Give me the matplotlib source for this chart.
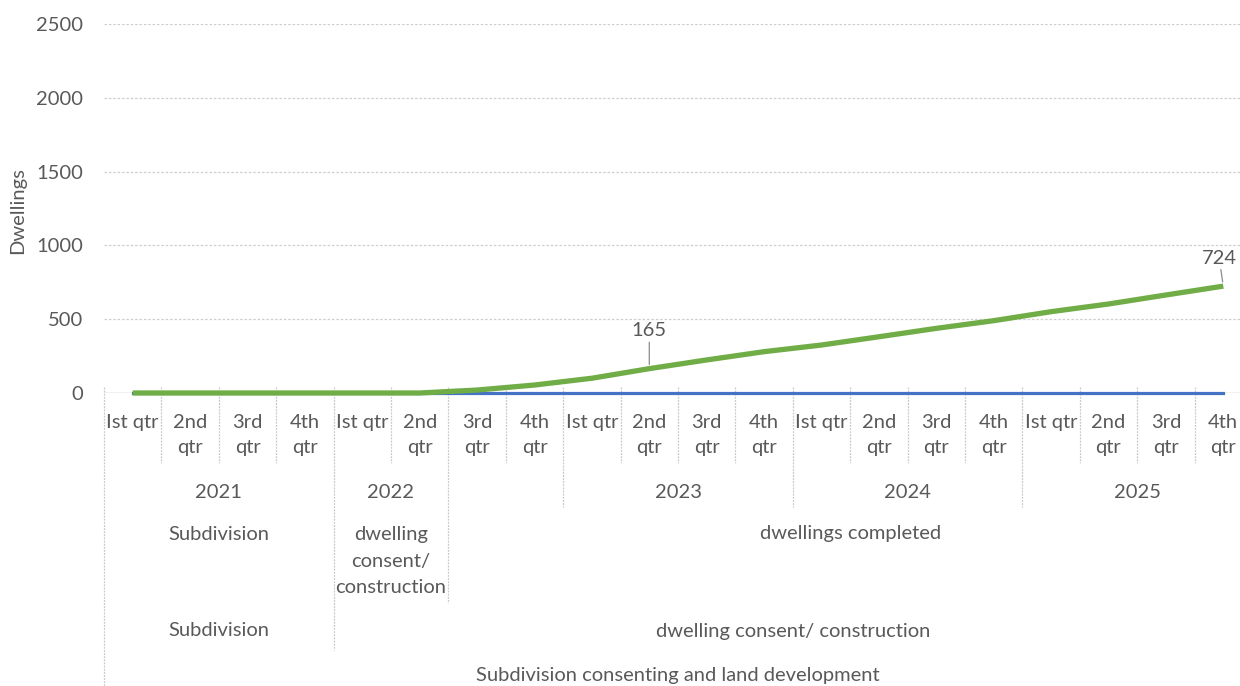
import matplotlib.pyplot as plt
from matplotlib.transforms import blended_transform_factory

# data
quarters = ["Ist qtr", "2nd\nqtr", "3rd\nqtr", "4th\nqtr"] * 5
completed = [0, 0, 0, 0, 0, 0, 20, 54, 100, 165, 224, 280,
             325, 381, 438, 490, 551, 603, 664, 724]
baseline = [0] * 20
years = [("2021", 0, 4), ("2022", 4, 6), ("", 6, 8), ("2023", 8, 12),
         ("2024", 12, 16), ("2025", 16, 20)]
stage_a = [("Subdivision", 0, 4), ("dwelling\nconsent/\nconstruction", 4, 6),
           ("dwellings completed", 6, 20)]
stage_b = [("Subdivision", 0, 4), ("dwelling consent/ construction", 4, 20)]
stage_c = [("Subdivision consenting and land development", 0, 20)]
labelled = [9, 19]
yticks = [0, 500, 1000, 1500, 2000, 2500]

W, H = 1240, 686
TXT = "#595959"
SEP = "#c8c8c8"
FS = 14.5
plt.rcParams['font.family'] = ['Lato', 'DejaVu Sans']


def fy(py):
    return 1 - py / H


fig = plt.figure(figsize=(W / 100, H / 100), dpi=100)
ax = fig.add_axes([104 / W, fy(393), 1148 / W, 369 / H])
x = list(range(len(quarters)))

ax.plot(x, baseline, color="#4472C4", lw=2.3, clip_on=False, zorder=3)
ax.plot(x, completed, color="#70AD47", lw=3.8, clip_on=False, zorder=4,
        solid_capstyle="butt")

offsets = {9: (0, 21), 19: (-3, 14)}
for i in labelled:
    ax.annotate(str(completed[i]), (x[i], completed[i]), xytext=offsets[i],
                textcoords="offset points", ha="center", va="bottom",
                fontsize=FS, color=TXT,
                arrowprops=dict(arrowstyle="-", color="#8c8c8c", lw=0.9,
                                shrinkA=0, shrinkB=3))

ax.set_xlim(-0.5, 19.5)
ax.set_ylim(0, 2500)
ax.set_yticks(yticks)
ax.set_xticks([])
ax.tick_params(axis="y", length=0, pad=15, labelsize=FS, labelcolor=TXT)
for s in ax.spines.values():
    s.set_visible(False)
for t in yticks[1:]:
    ax.axhline(t, color="#cfcfcf", lw=0.9, ls=(0, (2, 1.5)), zorder=1)
ax.axhline(0, color="#bfbfbf", lw=1, zorder=1)
fig.text(18 / W, fy(211), "Dwellings", rotation=90, ha="center", va="center",
         fontsize=FS, color=TXT)

# multi-level category axis
tr = blended_transform_factory(ax.transData, fig.transFigure)
for i, q in enumerate(quarters):
    ax.text(i, fy(414), q, transform=tr, ha="center", va="top", fontsize=FS,
            color=TXT, linespacing=1.6, clip_on=False)

levels = [(years, 492, 507), (stage_a, 534, 603), (stage_b, 631, 650),
          (stage_c, 675, 686)]
bottoms = {i: 463 for i in range(1, 20)}
for groups, ty, bottom in levels:
    for label, a, b in groups:
        if "\n" in label:
            ax.text((a + b - 1) / 2, fy(ty - 8), label, transform=tr,
                    ha="center", va="top", fontsize=FS, color=TXT,
                    linespacing=1.68, clip_on=False)
        else:
            ax.text((a + b - 1) / 2, fy(ty), label, transform=tr,
                    ha="center", va="center", fontsize=FS, color=TXT,
                    clip_on=False)
        bottoms[a] = bottom

for i, bottom in bottoms.items():
    ax.plot([i - 0.5, i - 0.5], [fy(387), fy(bottom)], transform=tr,
            color=SEP, lw=0.9, ls=(0, (1.5, 1)), clip_on=False)

fig.savefig("out.png", dpi=100)
